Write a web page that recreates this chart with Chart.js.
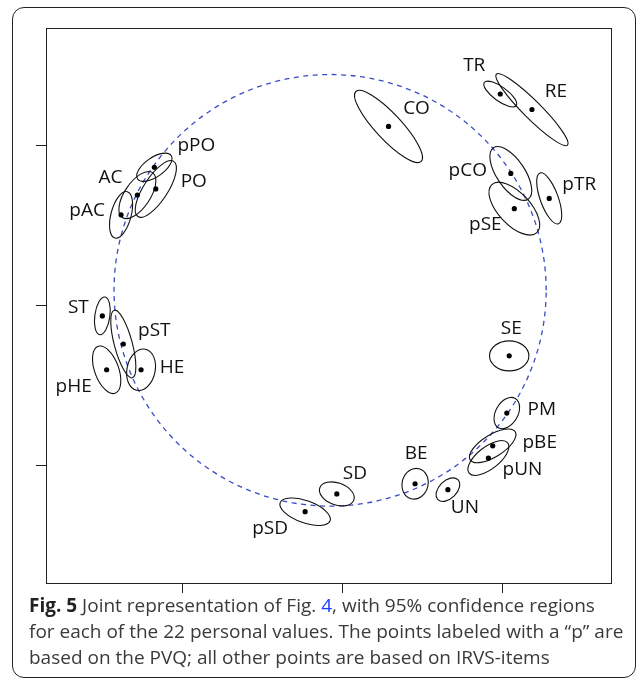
<!DOCTYPE html>
<html>
<head>
<meta charset="utf-8">
<script src="https://cdn.jsdelivr.net/npm/chart.js@4.4.1/dist/chart.umd.min.js"></script>
<style>
  html, body { margin: 0; padding: 0; background: #fff; }
  body { width: 637px; height: 680px; position: relative; overflow: hidden; font-family: "Open Sans", sans-serif; }
  #frame { position: absolute; left: 12px; top: 7px; width: 624px; height: 671px; box-sizing: border-box;
           border: 1.6px solid #222; border-radius: 12px; }
  #plot { position: absolute; left: 0; top: 0; }
  #caption { position: absolute; left: 29px; top: 592px; width: 600px; font-size: 19px; line-height: 26px;
             color: #3a3a3a; white-space: nowrap; }
  #caption b { color: #222; }
  #caption .ref { color: #1a3cff; }
</style>
</head>
<body>
<div id="frame"></div>
<canvas id="plot" width="637" height="600"></canvas>
<div id="caption"><b>Fig. 5</b> Joint representation of Fig. <span class="ref">4</span>, with 95% confidence regions<br>for each of the 22 personal values. The points labeled with a “p” are<br>based on the PVQ; all other points are based on IRVS-items</div>
<script>
// Personal values: "p" = PVQ, others = IRVS items
const valueNames = ['TR', 'RE', 'CO', 'pPO', 'PO', 'AC', 'pAC', 'pCO', 'pSE', 'pTR', 'ST',
                    'pST', 'pHE', 'HE', 'SE', 'PM', 'pBE', 'pUN', 'BE', 'UN', 'SD', 'pSD'];
// Joint configuration, dimension 1 and 2
const dimX = [0.988, 1.186, 0.290, -1.173, -1.164, -1.279, -1.381, 1.054, 1.076, 1.294, -1.498,
              -1.367, -1.471, -1.256, 1.044, 1.029, 0.941, 0.914, 0.456, 0.661, -0.033, -0.231];
const dimY = [1.325, 1.228, 1.122, 0.867, 0.731, 0.693, 0.569, 0.828, 0.608, 0.672, -0.063,
              -0.239, -0.400, -0.400, -0.313, -0.671, -0.876, -0.952, -1.113, -1.150, -1.177, -1.288];
// 95% confidence ellipses: semi-axes and orientation (degrees)
const semiMajor = [0.123, 0.314, 0.299, 0.128, 0.206, 0.169, 0.150, 0.194, 0.206, 0.169, 0.119,
                   0.219, 0.156, 0.131, 0.123, 0.106, 0.166, 0.153, 0.097, 0.088, 0.113, 0.166];
const semiMinor = [0.044, 0.056, 0.081, 0.060, 0.075, 0.080, 0.063, 0.088, 0.100, 0.056, 0.047,
                   0.056, 0.075, 0.088, 0.094, 0.069, 0.069, 0.069, 0.081, 0.056, 0.069, 0.069];
const axisAngle = [-36, -45, -47, 35, 57, 56, 75, -56, -47, -70, 82,
                   105, 110, 78, 0, 60, 32, 38, 75, 45, -20, -20];
// Reference circle
const circleCenterX = -0.075;
const circleCenterY = 0.097;
const circleRadius = 1.35;
const tickValues = [-1, 0, 1];

// Label placement relative to each point, in pixels
const labelNudge = [[-26, -28], [24, -18], [28, -18], [42, -22], [38, -7], [-27, -17], [-34, -4],
                    [-43, -3], [-29, 16], [30, -14], [-24, -8], [31, -13], [-33, 17], [31, -2],
                    [2, -27], [35, -3], [47, -3], [34, 12], [1, -30], [17, 18], [18, -20], [-35, 17]];

const points = valueNames.map((n, i) => ({ x: dimX[i], y: dimY[i] }));

function unitScale(chart) {
  const sx = chart.scales.x, sy = chart.scales.y;
  return {
    kx: sx.getPixelForValue(1) - sx.getPixelForValue(0),
    ky: sy.getPixelForValue(1) - sy.getPixelForValue(0),
    px: v => sx.getPixelForValue(v),
    py: v => sy.getPixelForValue(v)
  };
}

function tracedEllipse(ctx, u, cx, cy, a, b, deg) {
  ctx.save();
  ctx.beginPath();
  ctx.translate(u.px(cx), u.py(cy));
  ctx.scale(u.kx, u.ky);
  ctx.rotate(deg * Math.PI / 180);
  ctx.ellipse(0, 0, a, b, 0, 0, Math.PI * 2);
  ctx.restore();
}

const overlay = {
  id: 'overlay',
  beforeDatasetsDraw(chart) {
    const ctx = chart.ctx, u = unitScale(chart), area = chart.chartArea;
    // frame
    ctx.save();
    ctx.strokeStyle = '#222';
    ctx.lineWidth = 1;
    ctx.strokeRect(Math.round(area.left) + 0.5, Math.round(area.top) + 0.5,
                   Math.round(area.right - area.left), Math.round(area.bottom - area.top));
    // dashed circle
    tracedEllipse(ctx, u, circleCenterX, circleCenterY, circleRadius, circleRadius, 0);
    ctx.strokeStyle = '#3a4cc4';
    ctx.lineWidth = 1.3;
    ctx.setLineDash([5, 4.5]);
    ctx.stroke();
    ctx.setLineDash([]);
    // confidence ellipses
    ctx.strokeStyle = '#111';
    ctx.lineWidth = 1.1;
    for (let i = 0; i < valueNames.length; i++) {
      tracedEllipse(ctx, u, dimX[i], dimY[i], semiMajor[i], semiMinor[i], axisAngle[i]);
      ctx.stroke();
    }
    ctx.restore();
  },
  afterDatasetsDraw(chart) {
    const ctx = chart.ctx, u = unitScale(chart);
    ctx.save();
    ctx.fillStyle = '#111';
    ctx.font = '19px "Open Sans"';
    ctx.textAlign = 'center';
    ctx.textBaseline = 'middle';
    valueNames.forEach((n, i) => {
      ctx.fillText(n, u.px(dimX[i]) + labelNudge[i][0], u.py(dimY[i]) + labelNudge[i][1]);
    });
    ctx.restore();
  }
};

function axisOpts(min, max, fitKey) {
  return {
    type: 'linear',
    min: min,
    max: max,
    border: { display: false },
    grid: { display: true, drawOnChartArea: false, drawTicks: true, tickLength: 10, color: '#222', lineWidth: 1 },
    ticks: { display: false },
    afterBuildTicks: s => { s.ticks = tickValues.map(v => ({ value: v })); },
    afterFit: s => { s[fitKey] = 10; }
  };
}

function draw() {
  new Chart(document.getElementById('plot'), {
    type: 'scatter',
    data: {
      datasets: [{
        data: points,
        pointRadius: 2.6,
        pointBackgroundColor: '#000',
        pointBorderWidth: 0,
        pointHoverRadius: 2.6
      }]
    },
    options: {
      responsive: false,
      animation: false,
      events: [],
      layout: { padding: { left: 36, top: 28, right: 26, bottom: 7 } },
      plugins: { legend: { display: false }, tooltip: { enabled: false } },
      scales: {
        x: axisOpts(-1.85, 1.68, 'height'),
        y: axisOpts(-1.734, 1.738, 'width')
      }
    },
    plugins: [overlay]
  });
}

if (document.fonts && document.fonts.load) {
  document.fonts.load('19px "Open Sans"').then(draw, draw);
} else {
  draw();
}
</script>
</body>
</html>
